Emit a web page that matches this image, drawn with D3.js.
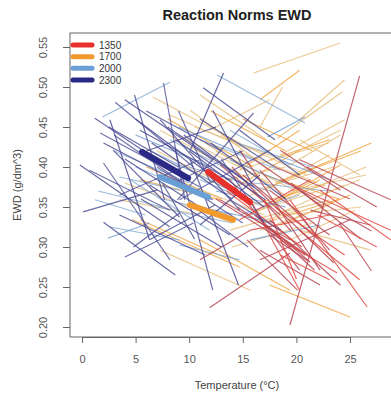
<!DOCTYPE html>
<html><head><meta charset="utf-8">
<script src="https://cdn.jsdelivr.net/npm/d3@7"></script>
<style>body{margin:0;background:#fff}svg{display:block}text{font-family:"Liberation Sans",Arial,sans-serif}</style>
</head><body><svg id="c" width="391" height="395"></svg>
<script>
// ---- data (temperature °C, EWD g/dm^3) : [t1, v1, t2, v2] ----
const groups = ["1350", "1700", "2000", "2300"];
const xTicks = [0, 5, 10, 15, 20, 25];
const yTicks = [0.20, 0.25, 0.30, 0.35, 0.40, 0.45, 0.50, 0.55];

const norms1700 = [
 [16.0,0.5175,24.1,0.555],[18.2,0.436,24.3,0.494],[17.5,0.2525,25.0,0.2125],[16.6,0.45,18.7,0.50],
 [6.6,0.4875,14.7,0.43],[4.7,0.334,14.7,0.275],[11.0,0.49,17.2,0.434],[8.2,0.465,15.7,0.421],
 [17.5,0.3525,24.1,0.4025],[18.0,0.34,24.5,0.3775],[17.1,0.371,23.1,0.415],[18.5,0.3275,25.0,0.365],
 [19.4,0.309,25.5,0.346],[16.6,0.321,23.1,0.3525],[17.5,0.409,23.1,0.434],[19.4,0.4025,24.1,0.44],
 [14.7,0.359,21.3,0.396],[15.7,0.34,22.2,0.384],[20.3,0.421,24.1,0.446],[21.3,0.359,25.9,0.384],
 [13.8,0.371,20.3,0.421],[18.5,0.415,24.5,0.459],[20.3,0.459,24.5,0.509],[16.6,0.484,20.3,0.521],
 [7.3,0.446,15.7,0.384],[10.1,0.471,17.5,0.396],[5.4,0.334,13.8,0.284],[7.3,0.296,15.7,0.246],
 [3.5,0.359,11.0,0.34],[11.0,0.309,19.4,0.246],[20.3,0.434,25.9,0.39],[16.1,0.344,22.2,0.371],
 [15.7,0.3525,22.7,0.3775],[16.6,0.336,23.1,0.359],[13.8,0.321,20.3,0.346],[14.7,0.396,20.3,0.446],
 [11.9,0.446,17.5,0.484],[20.3,0.321,26.9,0.296],[5.4,0.384,12.9,0.359],[12.5,0.42,20.0,0.37],
 [19.0,0.36,26.5,0.40],[17.0,0.39,24.0,0.36],[9.5,0.40,17.0,0.35],[14.0,0.30,21.5,0.33],
 [8.0,0.46,16.0,0.40],[9.0,0.44,17.5,0.38],[10.5,0.45,18.5,0.41],[12.0,0.47,19.0,0.42],
 [13.0,0.44,21.0,0.39],[7.0,0.42,14.5,0.37],[6.0,0.40,13.0,0.36],[11.5,0.43,19.5,0.36],
 [14.5,0.42,22.0,0.38],[15.0,0.46,21.5,0.42],[9.5,0.38,17.0,0.34],[4.0,0.38,11.0,0.345],
 [18.0,0.38,26.0,0.42],[19.5,0.37,26.5,0.39],[16.0,0.37,23.5,0.40],[17.0,0.33,24.0,0.36],
 [19.0,0.34,26.0,0.35],[15.5,0.40,23.0,0.43],[20.0,0.39,27.0,0.43],[12.0,0.38,19.0,0.40]
];
const norms1350 = [
 [19.4,0.2025,25.9,0.514],[11.9,0.224,19.4,0.2925],[19.4,0.359,26.6,0.225],[14.7,0.421,22.2,0.271],
 [16.6,0.396,23.1,0.296],[18.5,0.384,28.8,0.321],[20.3,0.409,28.8,0.359],[13.8,0.384,20.3,0.271],
 [15.7,0.359,20.3,0.246],[12.9,0.359,19.4,0.309],[17.5,0.334,24.1,0.2525],[20.3,0.321,25.9,0.259],
 [16.6,0.296,22.2,0.2525],[21.3,0.346,26.9,0.3275],[14.7,0.334,21.3,0.384],[16.6,0.284,25.0,0.334],
 [15.4,0.309,20.1,0.246],[18.5,0.309,23.8,0.2675],[24.0,0.33,27.0,0.27],[17.5,0.371,23.1,0.315],
 [22.2,0.371,28.8,0.309],[12.9,0.4025,18.5,0.34],[18.5,0.421,24.1,0.371],[15.7,0.321,23.1,0.34],
 [17.1,0.3275,21.7,0.271],[16.1,0.34,21.3,0.281],[18.5,0.29,23.1,0.259],[11.0,0.284,15.7,0.321],
 [17.5,0.315,21.0,0.283],[17.8,0.32,20.8,0.29],[14.0,0.40,19.5,0.32],[21.0,0.40,27.5,0.35],
 [13.5,0.37,20.5,0.30],[15.0,0.39,22.0,0.31],[16.5,0.37,23.5,0.28],[18.0,0.35,24.5,0.29],
 [19.5,0.38,26.0,0.31],[14.5,0.35,21.0,0.29],[17.0,0.36,20.0,0.26],[20.5,0.37,27.0,0.32],
 [12.5,0.36,18.5,0.31],[22.0,0.34,27.5,0.30],[16.0,0.41,22.5,0.35],[18.0,0.40,25.0,0.36]
];
const norms2000 = [
 [1.9,0.4625,8.2,0.506],[12.6,0.515,20.8,0.455],[17.3,0.4375,20.8,0.4625],[3.5,0.3875,9.1,0.371],
 [2.6,0.325,9.1,0.309],[2.4,0.311,6.3,0.33],[11.0,0.434,18.5,0.396],[13.8,0.446,19.4,0.4025],
 [6.3,0.421,13.8,0.371],[4.5,0.384,11.9,0.321],[14.7,0.34,20.3,0.365],[15.7,0.309,22.2,0.3275],
 [9.1,0.3025,14.7,0.284],[1.2,0.359,5.9,0.34],[13.8,0.409,19.4,0.3775],[8.2,0.434,14.7,0.39],
 [11.0,0.384,16.6,0.3525],[18.5,0.409,23.1,0.384],[5.0,0.40,12.0,0.36],[7.0,0.35,14.0,0.33],
 [9.0,0.45,16.0,0.41],[10.0,0.40,17.5,0.37],[3.0,0.42,10.0,0.38],[12.5,0.37,19.0,0.35],
 [7.5,0.36,14.0,0.34],[14.5,0.43,21.5,0.40],[5.0,0.44,12.0,0.40],[16.0,0.38,23.0,0.37],
 [1.5,0.37,7.5,0.35],[11.0,0.35,18.0,0.33]
];
const norms2300 = [
 [0.1,0.344,7.0,0.371],[2.0,0.331,8.7,0.265],[4.0,0.2875,10.4,0.330],[8.7,0.421,12.2,0.246],
 [10.1,0.409,14.6,0.2525],[7.6,0.505,9.6,0.359],[13.2,0.5175,10.1,0.421],[11.3,0.499,18.0,0.434],
 [3.1,0.481,10.4,0.40],[4.0,0.484,12.2,0.409],[1.2,0.461,9.1,0.39],[1.7,0.4425,11.0,0.375],
 [2.0,0.43,12.2,0.359],[-0.2,0.4025,8.2,0.325],[2.0,0.405,8.2,0.284],[2.9,0.421,9.1,0.3375],
 [4.8,0.30,9.1,0.3425],[8.9,0.359,16.0,0.4675],[12.2,0.471,16.0,0.375],[8.7,0.434,17.1,0.359],
 [9.1,0.359,17.5,0.421],[11.0,0.3275,16.6,0.39],[6.3,0.3775,13.8,0.315],[0.7,0.396,8.2,0.346],
 [5.4,0.446,13.8,0.384],[7.3,0.459,14.7,0.346],[3.5,0.365,11.0,0.409],[14.7,0.446,20.3,0.39],
 [6.3,0.309,12.4,0.3525],[13.8,0.359,18.5,0.321],[2.6,0.459,6.3,0.309],[4.9,0.49,7.7,0.359],
 [3.0,0.44,10.5,0.37],[5.0,0.46,12.0,0.39],[6.5,0.43,14.0,0.36],[8.0,0.45,15.5,0.38],
 [9.5,0.44,16.5,0.37],[4.0,0.41,11.0,0.35],[7.0,0.40,15.0,0.33],[10.0,0.42,17.0,0.35],
 [2.5,0.45,9.0,0.40],[11.0,0.46,18.0,0.40],[6.0,0.47,13.0,0.42],[12.0,0.43,19.0,0.36],
 [9.0,0.47,12.0,0.38],[5.5,0.36,13.0,0.30],[3.5,0.34,11.5,0.29],[10.5,0.35,15.5,0.30],
 [7.5,0.38,10.5,0.31],[13.0,0.41,17.0,0.33],[8.5,0.38,15.0,0.42],[6.0,0.42,12.5,0.45]
];
// group mean reaction norms
const means = {
 "1350": [11.75,0.394,15.67,0.356],
 "1700": [10.07,0.3525,14.09,0.334],
 "2000": [7.28,0.3875,11.75,0.3625],
 "2300": [5.6,0.419,9.9,0.386]
};

const thick = {"1350":"#e8312c","1700":"#f29a2e","2000":"#6a9fd6","2300":"#2a2a86"};
const thinA = {"1350":"#b5404e","1700":"#e6bd78","2000":"#86acd6","2300":"#45458f"};
const thinB = {"1350":"#e0443a","1700":"#f0a23e","2000":"#6d98cc","2300":"#50509a"};

const svg = d3.select("#c");
const x = d3.scaleLinear().domain([0,25]).range([82,350]);
const y = d3.scaleLinear().domain([0.20,0.55]).range([327,47]);
const L = 70, T = 33, R = 404, B = 337;

svg.append("text").attr("x",237).attr("y",20).attr("text-anchor","middle")
  .style("font-size","14.5px").style("font-weight","bold").attr("fill","#222").text("Reaction Norms EWD");

svg.append("clipPath").attr("id","clip").append("rect")
  .attr("x",L).attr("y",T).attr("width",R-L).attr("height",B-T);
const plot = svg.append("g").attr("clip-path","url(#clip)");

function drawSet(data, g, op){
  plot.append("g").selectAll("line").data(data).join("line")
    .attr("x1",d=>x(d[0])).attr("y1",d=>y(d[1])).attr("x2",d=>x(d[2])).attr("y2",d=>y(d[3]))
    .attr("stroke",(d,i)=> i%3===2 ? thinB[g] : thinA[g])
    .attr("stroke-width",1.2).attr("stroke-opacity",op);
}
drawSet(norms1700,"1700",0.8);
drawSet(norms2000,"2000",0.8);
drawSet(norms1350,"1350",0.8);
drawSet(norms2300,"2300",0.8);

plot.append("g").selectAll("line").data(["1700","2000","1350","2300"]).join("line")
  .attr("x1",g=>x(means[g][0])).attr("y1",g=>y(means[g][1]))
  .attr("x2",g=>x(means[g][2])).attr("y2",g=>y(means[g][3]))
  .attr("stroke",g=>thick[g]).attr("stroke-width",6).attr("stroke-linecap","round");

// frame
svg.append("rect").attr("x",L).attr("y",T).attr("width",R-L).attr("height",B-T)
  .attr("fill","none").attr("stroke","#666").attr("stroke-width",1);

// axes
const xa = svg.append("g").attr("transform",`translate(0,${B})`)
  .call(d3.axisBottom(x).tickValues(xTicks).tickSize(6).tickSizeOuter(0).tickPadding(12));
xa.select(".domain").attr("stroke","#666");
xa.selectAll(".tick line").attr("stroke","#666");
xa.selectAll("text").style("font-size","11px").attr("fill","#555");

const ya = svg.append("g").attr("transform",`translate(${L},0)`)
  .call(d3.axisLeft(y).tickValues(yTicks).tickSize(7).tickSizeOuter(0).tickFormat(d3.format(".2f")));
ya.select(".domain").remove();
ya.selectAll(".tick line").attr("stroke","#666");
ya.selectAll("text").attr("transform","rotate(-90)").attr("x",0).attr("y",-23).attr("dy","0em")
  .attr("text-anchor","middle").style("font-size","11px").attr("fill","#555");

svg.append("text").attr("x",237).attr("y",389).attr("text-anchor","middle")
  .style("font-size","11px").attr("fill","#444").text("Temperature (°C)");
svg.append("text").attr("transform","translate(21,185) rotate(-90)").attr("text-anchor","middle")
  .style("font-size","11px").attr("fill","#444").text("EWD (g/dm^3)");

// legend
const lg = svg.append("g");
const ly = d3.scalePoint().domain(groups).range([45,80]);
lg.selectAll("line").data(groups).join("line")
  .attr("x1",73).attr("x2",92).attr("y1",g=>ly(g)).attr("y2",g=>ly(g))
  .attr("stroke",g=>thick[g]).attr("stroke-width",5).attr("stroke-linecap","round");
lg.selectAll("text").data(groups).join("text")
  .attr("x",99).attr("y",g=>ly(g)).attr("dy","0.35em")
  .style("font-size","10px").attr("fill","#333").text(g=>g);
</script></body></html>
